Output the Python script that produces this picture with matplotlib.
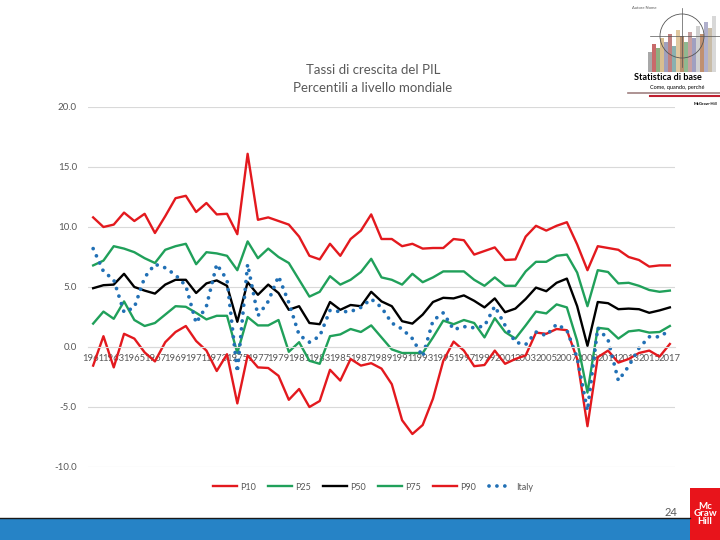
import matplotlib.pyplot as plt
from matplotlib.patches import Rectangle, Circle
from matplotlib.lines import Line2D

years = list(range(1961, 2018))
tick_labels = [str(y) for y in years[::2]]

p10 = [-1.55, 0.9, -1.7, 1.1, 0.7, -0.45, -1.2, 0.4, 1.25, 1.75,
       0.5, -0.3, -2.0, -0.6, -4.7, -0.7, -1.7, -1.75, -2.4, -4.4,
       -3.5, -5.0, -4.5, -1.9, -2.8, -1.0, -1.55, -1.35,
       -1.8, -3.1, -6.1, -7.25, -6.5, -4.3, -1.15, 0.45, -0.3, -1.6,
       -1.5, -0.3, -1.4, -1.0, -0.7, 1.2, 1.1, 1.5, 1.4, -1.0,
       -6.6, -0.85, -0.3, -1.3, -1.0, -0.5, -0.3, -0.8, 0.25]
p25 = [1.95, 2.95, 2.35, 3.8, 2.25, 1.75, 2.0, 2.7, 3.4, 3.35,
       2.85, 2.3, 2.6, 2.6, -0.5, 2.5, 1.8, 1.8, 2.25, -0.4,
       0.4, -1.15, -1.4, 0.9, 1.05, 1.5, 1.25, 1.8,
       0.8, -0.2, -0.5, -0.5, -0.5, 0.8, 2.2, 1.9, 2.25, 2.0,
       0.8, 2.4, 1.25, 0.7, 1.8, 2.95, 2.8, 3.55, 3.3, 0.5,
       -3.8, 1.6, 1.5, 0.7, 1.3, 1.4, 1.2, 1.25, 1.75]
p50 = [4.9, 5.15, 5.2, 6.1, 5.0, 4.7, 4.45, 5.2, 5.6, 5.6,
       4.5, 5.3, 5.55, 5.1, 2.1, 5.4, 4.35, 5.2, 4.5, 3.1,
       3.4, 2.0, 1.9, 3.75, 3.1, 3.5, 3.4, 4.6,
       3.8, 3.4, 2.15, 1.95, 2.7, 3.75, 4.1, 4.05, 4.3, 3.85,
       3.3, 4.05, 2.9, 3.2, 4.0, 4.95, 4.65, 5.35, 5.7, 3.4,
       0.1, 3.75, 3.65, 3.15, 3.2, 3.15, 2.85, 3.05, 3.3]
p75 = [6.8, 7.2, 8.4, 8.2, 7.9, 7.4, 7.0, 8.1, 8.4, 8.6,
       6.9, 7.9, 7.8, 7.6, 6.4, 8.8, 7.4, 8.2, 7.5, 7.0,
       5.6, 4.2, 4.6, 5.9, 5.2, 5.6, 6.25, 7.35,
       5.8, 5.6, 5.2, 6.1, 5.4, 5.8, 6.3, 6.3, 6.3, 5.6,
       5.1, 5.8, 5.1, 5.1, 6.3, 7.1, 7.1, 7.6, 7.7, 6.2,
       3.4, 6.4, 6.25, 5.3, 5.35, 5.1, 4.75, 4.6, 4.7]
p90 = [10.8, 10.0, 10.2, 11.2, 10.5, 11.1, 9.5, 10.9, 12.4, 12.6,
       11.25, 12.0, 11.05, 11.1, 9.4, 16.1, 10.6, 10.8, 10.5, 10.2,
       9.2, 7.6, 7.3, 8.6, 7.6, 9.0, 9.7, 11.05,
       9.0, 9.0, 8.4, 8.6, 8.2, 8.25, 8.25, 9.0, 8.9, 7.7,
       8.0, 8.3, 7.25, 7.3, 9.2, 10.1, 9.7, 10.1, 10.4, 8.55,
       6.4, 8.4, 8.25, 8.1, 7.5, 7.25, 6.7, 6.8, 6.8]
italy = [8.2, 6.3, 5.6, 2.9, 3.3, 5.8, 6.9, 6.6, 6.0, 5.1,
         2.0, 3.4, 6.9, 5.6, -2.1, 6.9, 2.6, 3.8, 5.9, 3.7,
         1.0, 0.4, 0.9, 3.05, 2.95, 2.95, 3.3, 4.0,
         3.3, 2.0, 1.5, 0.7, -0.8, 2.2, 2.85, 1.45, 1.7, 1.6,
         1.75, 3.4, 1.8, 0.4, 0.2, 1.25, 0.95, 1.9, 1.4, -0.9,
         -5.3, 1.6, 0.6, -2.8, -1.6, -0.1, 0.85, 0.85, 1.4]

RED = '#e3191e'
GREEN = '#20a05a'
BLUE = '#2170b5'
GRAY = '#595959'
plt.rcParams['font.family'] = ['Lato', 'DejaVu Sans']

fig = plt.figure(figsize=(7.2, 5.4), dpi=100)
ax = fig.add_axes([88/720, 1-467/540, 587/720, 360/540])
ax.spines['bottom'].set_position(('data', 0))

x = list(range(len(years)))
ax.plot(x, p10, color=RED, lw=1.7, label='P10')
ax.plot(x, p25, color=GREEN, lw=1.7, label='P25')
ax.plot(x, p50, color='black', lw=1.7, label='P50')
ax.plot(x, p75, color=GREEN, lw=1.7, label='P75')
ax.plot(x, p90, color=RED, lw=1.7, label='P90')
ax.plot(x, italy, color=BLUE, lw=2.7, linestyle=(0, (0.01, 2.1)),
        dash_capstyle='round', label='Italy')

ax.set_xlim(-0.5, len(years) - 0.5)
ax.set_ylim(-10, 20)
ax.set_yticks([-10, -5, 0, 5, 10, 15, 20])
ax.set_yticklabels(['-10.0', '-5.0', '0.0', '5.0', '10.0', '15.0', '20.0'])
ax.set_xticks(x[::2])
ax.set_xticklabels(tick_labels)
ax.grid(axis='y', color='#d9d9d9', lw=0.8)
ax.set_axisbelow(True)
for s in ['top', 'right', 'left']:
    ax.spines[s].set_visible(False)
ax.spines['bottom'].set_color('#d9d9d9')
ax.tick_params(axis='both', length=0, labelcolor=GRAY)
ax.tick_params(axis='x', pad=5, labelsize=6.8)
ax.tick_params(axis='y', pad=8, labelsize=7)
for lbl in ax.get_xticklabels():
    lbl.set_zorder(5)

fig.text(373/720, 1-70/540, 'Tassi di crescita del PIL', ha='center', va='center',
         fontsize=9.5, color=GRAY)
fig.text(373/720, 1-88/540, 'Percentili a livello mondiale', ha='center', va='center',
         fontsize=9.5, color=GRAY)

leg = fig.legend(*ax.get_legend_handles_labels(), loc='center', ncol=6,
                 bbox_to_anchor=(373/720, 1-487/540), frameon=False,
                 fontsize=6.5, handlelength=2.6, handletextpad=0.4,
                 columnspacing=1.35)
for t in leg.get_texts():
    t.set_color(GRAY)

# slide decorations
fig.patches.append(Rectangle((0, 0), 690/720, 22/540, transform=fig.transFigure,
                             facecolor='#2683c6', edgecolor='none'))
fig.add_artist(Line2D([0, 690/720], [22/540, 22/540], transform=fig.transFigure,
                      color='#1a1a1a', lw=1))
fig.patches.append(Rectangle((690/720, 0), 30/720, 52/540, transform=fig.transFigure,
                             facecolor='#e8141b', edgecolor='none'))
fig.text(705/720, 26/540, 'Mc\nGraw\nHill', ha='center', va='center', color='white',
         fontsize=7, fontweight='bold', linespacing=0.85)
fig.text(671/720, 1-512/540, '24', ha='center', va='center', color=GRAY, fontsize=8)

# book cover, top right
cov = fig.add_axes([620/720, 1-72/540, 100/720, 64/540])
cov.set_xlim(0, 100)
cov.set_ylim(0, 64)
cov.axis('off')
cover_x = [30, 34, 38, 42, 46, 50, 54, 58, 62, 66, 70, 74, 78, 82, 86, 90, 94]
cover_h = [20, 28, 24, 34, 30, 38, 26, 42, 36, 30, 40, 34, 46, 38, 50, 44, 56]
cover_c = ['#a8a8a8', '#c86a6a', '#8fae80', '#d8be90', '#a0a0bc', '#c08080', '#8ab0b0',
           '#e0c8a0', '#b89070', '#90b890', '#c8a0a0', '#a0a0c0', '#d0d0d0', '#c09070',
           '#b0b0cc', '#c8bca8', '#d8d8d8']
cov.bar(cover_x, cover_h, width=3.2, color=cover_c, align='center')
cov.add_patch(Circle((62, 36), 22, fill=False, edgecolor='#555555', lw=0.6))
cov.plot([30, 100], [36, 36], color='#555555', lw=0.5)
cov.plot([62, 62], [5, 64], color='#555555', lw=0.5)

fig.text(634/720, 1-78/540, 'Statistica di base', fontsize=6.5, fontweight='bold',
         va='center')
fig.text(650/720, 1-87/540, 'Come, quando, perché', fontsize=4, va='center')
fig.add_artist(Line2D([628/720, 1], [1-93/540, 1-93/540], transform=fig.transFigure,
                      color='#a08080', lw=1.2))
fig.add_artist(Line2D([650/720, 1], [1-96/540, 1-96/540], transform=fig.transFigure,
                      color='#c02030', lw=1.5))
fig.text(694/720, 1-104/540, 'McGraw-Hill', fontsize=3, fontweight='bold', va='center')
fig.text(632/720, 1-8/540, 'Autore Nome', fontsize=3, color=GRAY, va='center')

fig.savefig('out.png', dpi=100)
